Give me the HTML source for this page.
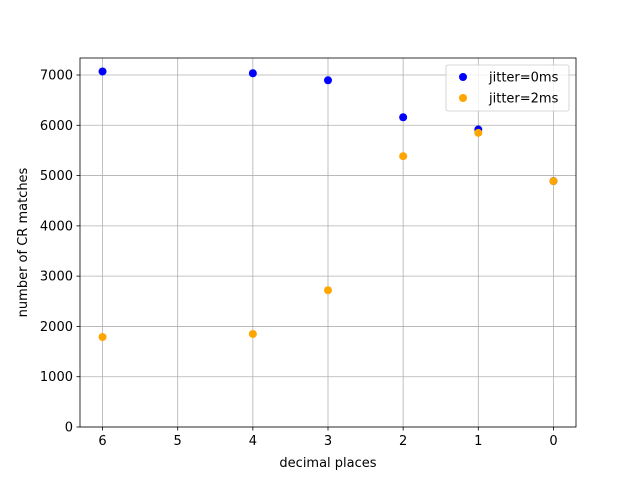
<!DOCTYPE html>
<html><head><meta charset="utf-8"><style>
body{margin:0;background:#fff;}
svg text{font-family:"DejaVu Sans","Liberation Sans",sans-serif;font-size:13px;fill:#000;}
</style></head><body>
<svg id="chart" width="640" height="480"></svg>
<script>
const xCats=[6,5,4,3,2,1,0];
const xPoints=[6,4,3,2,1,0];
const jitter0=[7070,7035,6895,6160,5915,4890];
const jitter2=[1790,1850,2720,5385,5850,4890];
const yTicks=[0,1000,2000,3000,4000,5000,6000,7000];
const L=80,R=576,T=58,B=427;
const xs=v=>L+(6.3-v)/6.6*(R-L);
const ys=v=>B-v/7338*(B-T);
const svg=document.getElementById('chart');
const NS='http://www.w3.org/2000/svg';
function mk(t,a,p){const e=document.createElementNS(NS,t);for(const k in a)e.setAttribute(k,a[k]);(p||svg).appendChild(e);return e;}
const grid=mk('g',{});


xCats.forEach(v=>{const x=xs(v);
mk('line',{x1:x,x2:x,y1:T,y2:B,stroke:'#b0b0b0','stroke-width':0.8},grid);
mk('line',{x1:x,x2:x,y1:B,y2:B+3.5,stroke:'#000','stroke-width':0.8});
const t=mk('text',{x:x,y:B+18,'text-anchor':'middle'});t.textContent=v;

});
yTicks.forEach(v=>{const y=ys(v);
mk('line',{x1:L,x2:R,y1:y,y2:y,stroke:'#b0b0b0','stroke-width':0.8},grid);
mk('line',{x1:L-3.5,x2:L,y1:y,y2:y,stroke:'#000','stroke-width':0.8});
const t=mk('text',{x:L-7,y:y+4.5,'text-anchor':'end'});t.textContent=v;

});
function series(vals,color,name){const g=mk('g',{});


vals.forEach((v,i)=>{const c=mk('circle',{cx:xs(xPoints[i]),cy:ys(v),r:4,fill:color},g);

});}
series(jitter0,'#0000ff','series-jitter-0ms');
series(jitter2,'#ffa500','series-jitter-2ms');
const frame=mk('rect',{x:L,y:T,width:R-L,height:B-T,fill:'none',stroke:'#000','stroke-width':0.8});


const xl=mk('text',{x:(L+R)/2,y:467,'text-anchor':'middle'});xl.textContent='decimal places';


const yl=mk('text',{x:0,y:0,'text-anchor':'middle',transform:`translate(27,${(T+B)/2}) rotate(-90)`});yl.textContent='number of CR matches';


const lg=mk('g',{});


mk('rect',{x:446,y:65,width:123,height:46,rx:2,fill:'#fff','fill-opacity':0.8,stroke:'#ccc','stroke-width':0.8},lg);
[['#0000ff','jitter=0ms',77],['#ffa500','jitter=2ms',98]].forEach(([c,l,y])=>{
mk('circle',{cx:463,cy:y,r:4,fill:c},lg);
const t=mk('text',{x:489,y:y+4.5},lg);t.textContent=l;

});
</script>
</body></html>
